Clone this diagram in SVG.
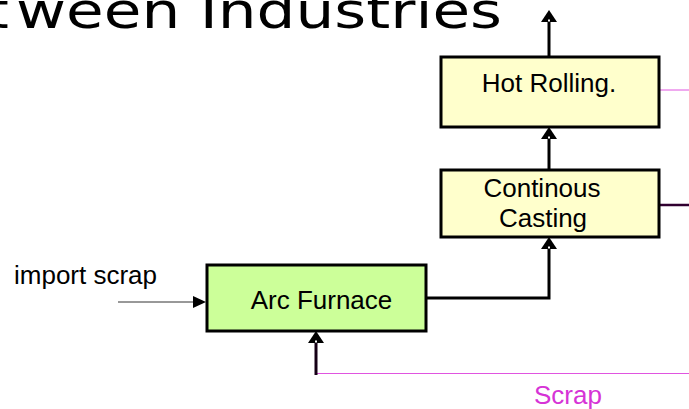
<svg xmlns="http://www.w3.org/2000/svg" width="689" height="409" viewBox="0 0 689 409">
  <style>
    .box { stroke: #000; stroke-width: 3; }
    .mill { fill: #FFFFCC; }
    .furnace { fill: #CCFF99; }
    .lbl { font-family: "Liberation Sans", Arial, sans-serif; font-size: 26px; fill: #000; }
    .flow { fill: none; stroke: #000; stroke-width: 3; }
    .scrap { fill: none; stroke: #E055E0; stroke-width: 1; }
  </style>
  <defs>
    <!-- heavy arrowhead: reference point at the base so the stroke stops there -->
    <marker id="head" markerUnits="userSpaceOnUse" markerWidth="12" markerHeight="16" viewBox="0 0 12 16" refX="0" refY="8" orient="auto" overflow="visible">
      <path d="M0,0 L12,8 L0,16 Z" fill="#000"/>
      <rect x="0.5" y="7" width="2" height="2" fill="#fff"/>
    </marker>
    <marker id="thin" markerUnits="userSpaceOnUse" markerWidth="13" markerHeight="12" viewBox="0 0 13 12" refX="0" refY="6" orient="auto" overflow="visible">
      <path d="M0,0 L13,6 L0,12 Z" fill="#000"/>
    </marker>
  </defs>

  <rect width="689" height="409" fill="#fff"/>

  <!-- heading, running off the top-left edge -->
  <text y="28" font-family="'DejaVu Sans', sans-serif" font-size="50" fill="#000"><tspan x="-11">t</tspan><tspan x="16" textLength="486" lengthAdjust="spacingAndGlyphs">ween Industries</tspan></text>

  <g id="connectors">
    <!-- hot rolling output, going up -->
    <line class="flow" x1="549" y1="56" x2="549" y2="22" marker-end="url(#head)"/>
    <!-- casting to hot rolling -->
    <line class="flow" x1="549" y1="169" x2="549" y2="139" marker-end="url(#head)"/>
    <!-- furnace to casting -->
    <polyline class="flow" points="427,298 549,298 549,249" marker-end="url(#head)"/>
    <!-- side outputs -->
    <line class="scrap" x1="660" y1="90" x2="689" y2="90"/>
    <line x1="660" y1="205" x2="689" y2="205" stroke="#300030" stroke-width="2.5"/>
    <!-- imported scrap -->
    <line x1="118" y1="302" x2="193" y2="302" stroke="#333" stroke-width="1" marker-end="url(#thin)"/>
    <!-- scrap return loop -->
    <line class="scrap" x1="316" y1="373.5" x2="689" y2="373.5"/>
    <line x1="316" y1="375" x2="316" y2="343" stroke="#150015" stroke-width="3" marker-end="url(#head)"/>
  </g>

  <g id="hot-rolling">
    <rect class="box mill" x="441" y="57" width="218" height="70"/>
    <text class="lbl" x="549" y="92" text-anchor="middle">Hot Rolling.</text>
  </g>

  <g id="continuous-casting">
    <rect class="box mill" x="441" y="170" width="218" height="67"/>
    <text class="lbl" x="542" y="197" text-anchor="middle">Continous</text>
    <text class="lbl" x="543" y="227" text-anchor="middle">Casting</text>
  </g>

  <g id="arc-furnace">
    <rect class="box furnace" x="207" y="265" width="219" height="66"/>
    <text class="lbl" x="321.5" y="309" text-anchor="middle">Arc Furnace</text>
  </g>

  <g id="import-scrap-label">
    <text class="lbl" x="14" y="284">import scrap</text>
  </g>

  <g id="scrap-label">
    <text x="568" y="404" text-anchor="middle" font-family="'Liberation Sans', Arial, sans-serif" font-size="26" fill="#D633D6">Scrap</text>
  </g>
</svg>
